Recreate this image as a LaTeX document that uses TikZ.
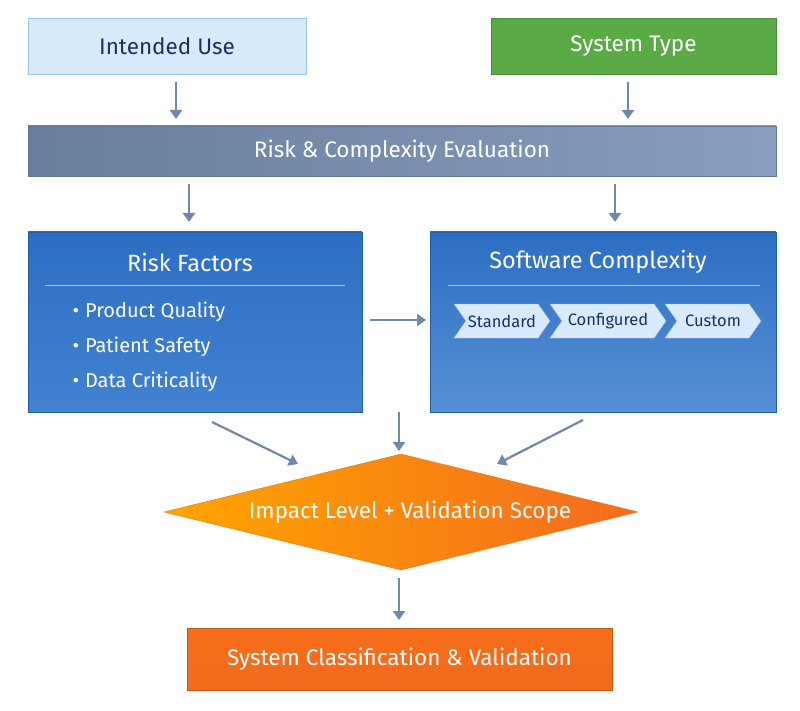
\documentclass[tikz,border=0pt]{standalone}
\usepackage{fontspec}
\setmainfont{Fira Sans}
\usetikzlibrary{shapes.geometric,shapes.symbols,arrows.meta}
\definecolor{navy}{HTML}{1B2F6B}
\definecolor{lightb}{HTML}{D8EBFC}
\definecolor{lightbd}{HTML}{9CC3EA}
\definecolor{grn}{HTML}{5AAB46}
\definecolor{slate}{HTML}{7C94B8}
\definecolor{blu}{HTML}{2E74CC}
\definecolor{arr}{HTML}{7089AA}
\definecolor{org}{HTML}{F46A1E}
\tikzset{
  conn/.style={draw=arr,line width=2.2pt,-{Triangle[length=9pt,width=12pt]}},
  chev/.style={signal,signal to=east,signal pointer angle=110,fill=lightb,draw=lightbd,text=navy,font=\fontsize{16.5}{19}\selectfont,minimum height=34pt,inner sep=1pt,anchor=center},
  bul/.style={text=white,font=\fontsize{20}{24}\selectfont,anchor=west},
  big/.style={font=\fontsize{22.5}{26}\selectfont},
  ttl/.style={font=\fontsize{23.5}{27}\selectfont,text=white}
}
\begin{document}
\begin{tikzpicture}[x=1pt,y=-1pt]
\useasboundingbox (0,0) rectangle (800,711);
\fill[white] (0,0) rectangle (800,711);
\node[draw=lightbd,fill=lightb,text=navy,minimum width=278pt,minimum height=56pt,big] (iu) at (167,46) {Intended Use};
\node[draw=grn!80!black,fill=grn,text=white,minimum width=285pt,minimum height=56pt,big] (st) at (633.5,46) {System Type};
\node[draw=slate!80!black,left color=slate!85!black,right color=slate!90!white,text=white,minimum width=748pt,minimum height=50pt,big] (rc) at (402,151) {Risk \& Complexity Evaluation};
\coordinate (a1s) at (176,82); \coordinate (a1e) at (176,119);
\coordinate (a2s) at (628,82); \coordinate (a2e) at (628,119);
\draw[conn] (a1s) -- (a1e); \draw[conn] (a2s) -- (a2e);
\coordinate (b1s) at (189,184); \coordinate (b1e) at (189,222);
\coordinate (b2s) at (615,184); \coordinate (b2e) at (615,222);
\draw[conn] (b1s) -- (b1e); \draw[conn] (b2s) -- (b2e);
\node[draw=blu!80!black,top color=blu!95!black,bottom color=blu!90!white,minimum width=334pt,minimum height=180pt] (rf) at (195,322) {};
\node[ttl] (rft) at (190,262) {Risk Factors};
\draw[white!60!blu,line width=1pt] (45,285) -- (345,285);
\node[bul] (p1) at (69,312) {•\hspace{6pt}Product Quality};
\node[bul] (p2) at (69,347) {•\hspace{6pt}Patient Safety};
\node[bul] (p3) at (69,382) {•\hspace{6pt}Data Criticality};
\node[draw=blu!80!black,top color=blu!95!black,bottom color=blu!80!white,minimum width=346pt,minimum height=180pt] (sc) at (603,322) {};
\node[ttl] (sct) at (598,262) {Software Complexity};
\draw[white!60!blu,line width=1pt] (448,285) -- (760,285);
\node[chev,minimum width=96pt,signal from=west] (c1) at (502,321) {Standard};
\node[chev,minimum width=116pt,signal from=west] (c2) at (608,321) {Configured};
\node[chev,minimum width=96pt,signal from=west] (c3) at (713,321) {Custom};
\coordinate (hs) at (370,320); \coordinate (he) at (426,320);
\draw[conn] (hs) -- (he);
\node[diamond,aspect=4.1,inner sep=0pt,minimum width=474pt,minimum height=116pt,draw=orange!90!black,left color=orange!70!yellow,right color=org,text=white] (dm) at (401,512) {};
\node[text=white,big] (dmt) at (410,512) {Impact Level + Validation Scope};
\coordinate (d1) at (212,422); \coordinate (d1e) at (298,464);
\coordinate (d2) at (399,412); \coordinate (d2e) at (399,451);
\coordinate (d3) at (583,420); \coordinate (d3e) at (497,464);
\draw[conn] (d1) -- (d1e); \draw[conn] (d2) -- (d2e); \draw[conn] (d3) -- (d3e);
\coordinate (e1) at (399,578); \coordinate (e1e) at (399,620);
\draw[conn] (e1) -- (e1e);
\node[draw=org!80!black,top color=org!85!orange,bottom color=org,text=white,minimum width=425pt,minimum height=62pt,big] (sv) at (399.5,659) {System Classification \& Validation};
\end{tikzpicture}
\end{document}
